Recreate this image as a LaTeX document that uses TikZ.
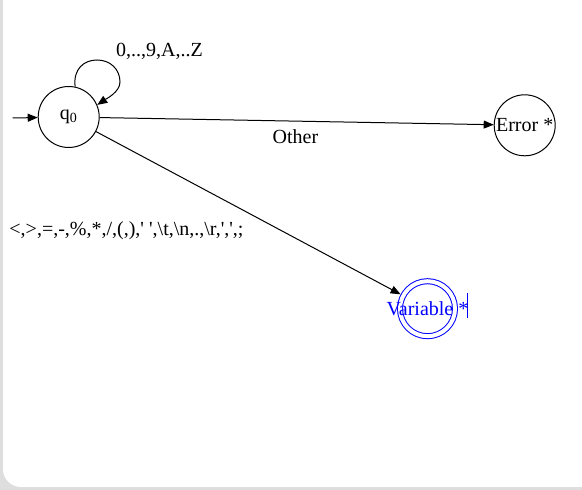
\documentclass[tikz,border=0pt]{standalone}
\usepackage{fontspec}
\setmainfont{Liberation Serif}
\usetikzlibrary{arrows.meta}
\definecolor{framegray}{HTML}{DEDEDE}
\definecolor{varblue}{HTML}{0000FF}
\begin{document}
\begin{tikzpicture}[x=1pt,y=1pt,
  txt/.style={font=\fontsize{20}{24}\selectfont, inner sep=0pt},
  state/.style={circle, draw, line width=1pt, minimum size=61pt, inner sep=0pt},
  accstate/.style={circle, draw=varblue, line width=1pt, double, double distance=4pt, minimum size=55pt, inner sep=0pt, outer sep=3pt},
  edge/.style={line width=1pt, -{Triangle[length=10pt,width=8pt]}},
  lbl/.style={txt, anchor=base}]
\useasboundingbox (0,0) rectangle (582,490);
\fill[framegray] (0,0) rectangle (582,490);
\clip (0,0) rectangle (582,490);
\fill[white, rounded corners=18pt] (3,3) rectangle (640,540);

\node[state, label={[txt]center:q\textsubscript{0}}] (q0) at (68.7,373) {};
\node[state, label={[txt]center:Error *}] (err) at (524.7,364.7) {};
\node[accstate, label={[txt, text=varblue]center:Variable *}] (var) at (427.5,181.3) {};

\coordinate (start) at (12.7,372);
\draw[edge] (start) -- (q0);
\draw[edge] (q0.78) .. controls (73,421) and (84,430) .. (97,430)
  .. controls (110,430) and (120,421) .. (120,408)
  .. controls (120,398) and (106,391) .. (q0.23);
\draw[edge] (q0) -- (err);
\draw[edge] (q0) -- (var);

\node[lbl] (loopl) at (159.5,433.3) {0,..,9,A,..Z};
\node[lbl] (otherl) at (295.5,346) {Other};
\node[lbl] (syml) at (126.5,254) {\textless,\textgreater,=,-,\%,*,/,(,),\textquotesingle\ \textquotesingle,\textbackslash t,\textbackslash n,.,\textbackslash r,\textquotesingle,\textquotesingle,;};

\coordinate (curtop) at (467.7,197);
\coordinate (curbot) at (467.7,172);
\draw[varblue, line width=1.2pt] (curtop) -- (curbot);
\end{tikzpicture}
\end{document}
